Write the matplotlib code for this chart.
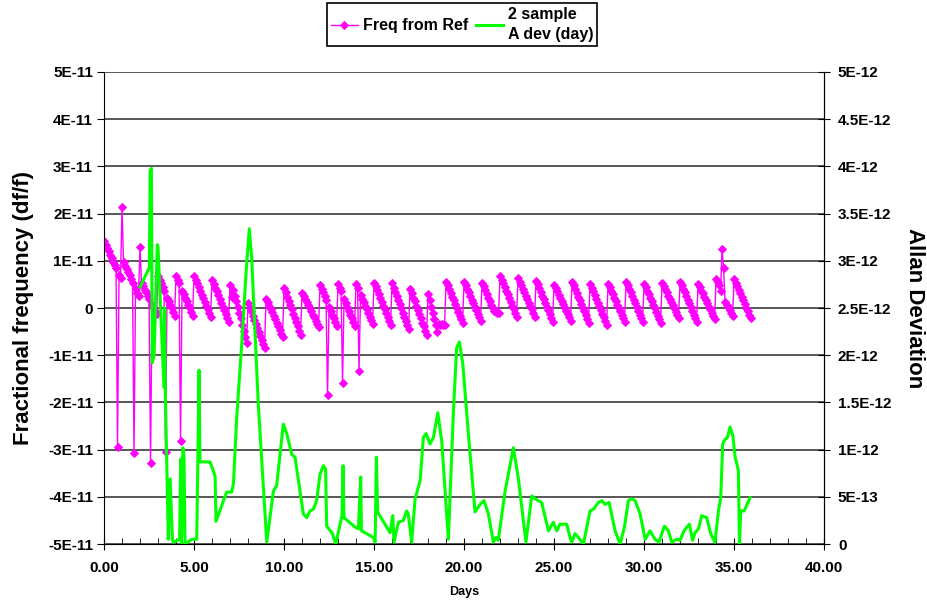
import numpy as np
import matplotlib.pyplot as plt
from matplotlib.ticker import MultipleLocator, FormatStrFormatter

plt.rcParams['font.family'] = ['Liberation Sans', 'DejaVu Sans']
plt.rcParams['font.weight'] = 'bold'
plt.rcParams['axes.labelweight'] = 'bold'

# frequency vs reference, units of 1E-12, 12 samples per day (one row per day)
samples_per_day = 12
freq_e12 = [
    14.1, 13.4, 12.7, 12.0, 11.3, 10.6, 9.8, 9.1, 8.4, -29.4, 7.0, 6.3,
    21.5, 9.8, 9.0, 8.3, 7.6, 6.9, 6.1, 5.4, -30.8, 4.0, 3.2, 2.5,
    12.9, 5.2, 4.6, 3.9, 3.3, 2.6, 2.0, -32.8, 0.7, 0.0, -0.6, -1.3,
    6.8, 6.0, 5.3, 4.5, 3.7, -30.4, 2.2, 1.5, 0.7, -0.1, -0.8, -1.6,
    6.8, 6.0, 5.3, -28.2, 3.7, 2.9, 2.2, 1.5, 0.7, -0.1, -0.8, -1.6,
    6.8, 6.0, 5.2, 4.4, 3.6, 2.8, 2.1, 1.3, 0.5, -0.3, -1.1, -1.9,
    5.9, 5.1, 4.3, 3.5, 2.7, 1.9, 1.1, 0.3, -0.5, -1.3, -2.1, -2.9,
    4.9, 2.4, 3.8, 2.6, 1.4, 0.2, -1.0, -2.2, -3.5, -4.8, -6.1, -7.5,
    1.0, 0.1, -0.7, -1.6, -2.5, -3.3, -4.2, -5.0, -5.9, -6.8, -7.6, -8.5,
    2.0, 1.3, 0.5, -0.2, -0.9, -1.7, -2.4, -3.2, -3.9, -4.6, -5.4, -6.1,
    4.2, 3.3, 2.4, 1.5, 0.6, -0.3, -1.2, -2.1, -3.0, -3.9, -4.8, -5.7,
    3.2, 2.5, 1.9, 1.2, 0.6, -0.1, -0.7, -1.4, -2.0, -2.7, -3.3, -4.0,
    4.9, 4.1, 3.3, 2.5, 1.7, -18.4, 0.2, -0.6, -1.4, -2.2, -3.0, -3.8,
    5.1, 4.3, 3.5, -15.8, 1.9, 1.1, 0.2, -0.6, -1.4, -2.2, -3.0, -3.8,
    5.1, 4.3, -13.3, 2.8, 2.0, 1.2, 0.5, -0.3, -1.1, -1.9, -2.6, -3.4,
    5.4, 4.6, 3.8, 3.0, 2.1, 1.3, 0.5, -0.3, -1.1, -2.0, -2.8, -3.6,
    5.2, 4.3, 3.4, 2.6, 1.7, 0.8, -0.1, -1.0, -1.9, -2.7, -3.6, -4.5,
    4.0, 3.1, 2.2, 1.4, 0.5, -0.4, -1.3, -2.2, -3.1, -3.9, -4.8, -5.7,
    3.0, 1.7, 0.3, -1.0, -2.3, -3.7, -5.0, -3.4, -3.5, -3.4, -3.6, -3.7,
    5.6, 4.8, 4.0, 3.2, 2.4, 1.6, 0.8, 0.0, -0.8, -1.6, -2.4, -3.2,
    5.6, 4.8, 4.1, 3.3, 2.6, 1.8, 1.1, 0.3, -0.4, -1.2, -1.9, -2.7,
    5.4, 4.6, 3.8, 3.0, 2.2, 1.4, 0.6, -0.1, -0.6, -0.9, -1.0, -1.1,
    6.8, 6.0, 5.2, 4.5, 3.7, 2.9, 2.1, 1.3, 0.5, -0.2, -1.0, -1.8,
    6.3, 5.6, 4.8, 4.1, 3.4, 2.6, 1.9, 1.1, 0.4, -0.3, -1.1, -1.8,
    5.8, 5.0, 4.2, 3.4, 2.6, 1.9, 1.1, 0.3, -0.5, -1.3, -2.1, -2.9,
    4.9, 4.2, 3.5, 2.8, 2.1, 1.4, 0.8, 0.1, -0.6, -1.3, -2.0, -2.7,
    5.6, 4.8, 4.0, 3.2, 2.4, 1.6, 0.9, 0.1, -0.7, -1.5, -2.3, -3.1,
    5.1, 4.3, 3.5, 2.7, 1.9, 1.1, 0.4, -0.4, -1.2, -2.0, -2.8, -3.6,
    5.1, 4.4, 3.6, 2.9, 2.2, 1.5, 0.7, 0.0, -0.7, -1.4, -2.2, -2.9,
    5.6, 4.8, 4.1, 3.3, 2.5, 1.7, 1.0, 0.2, -0.6, -1.4, -2.1, -2.9,
    5.1, 4.4, 3.6, 2.9, 2.1, 1.4, 0.6, -0.1, -0.9, -1.6, -2.4, -3.1,
    5.4, 4.7, 4.0, 3.3, 2.6, 2.0, 1.3, 0.6, -0.1, -0.8, -1.5, -2.2,
    5.6, 4.8, 4.1, 3.3, 2.5, 1.7, 1.0, 0.2, -0.6, -1.4, -2.1, -2.9,
    5.1, 4.4, 3.7, 3.1, 2.4, 1.7, 1.0, 0.3, -0.3, -1.0, -1.7, -2.4,
    6.1, 5.5, 4.8, 3.5, 12.6, 8.4, 1.3, 0.7, 0.2, -0.4, -1.0, -1.7,
    6.1, 5.3, 4.6, 3.8, 3.1, 2.3, 1.6, 0.8, 0.0, -0.7, -1.5, -2.2,
]
freq_days = np.arange(len(freq_e12)) / samples_per_day

# 2 sample Allan deviation (day), units of 1E-12
adev_days = [2.00, 2.52, 2.56, 2.63, 2.68, 2.78, 2.96, 3.00, 3.33, 3.37,
             3.40, 3.57, 3.67, 3.80, 3.85, 4.20, 4.26, 4.30, 4.38, 4.44,
             4.50, 4.65, 4.87, 5.15, 5.28, 5.33, 5.89, 6.17, 6.22, 6.81,
             7.09, 7.19, 7.37, 7.65, 7.90, 8.07, 8.20, 8.57, 9.04, 9.41,
             9.59, 9.96, 10.15, 10.43, 10.61, 11.07, 11.26, 11.44, 11.63, 11.81,
             12.00, 12.19, 12.31, 12.37, 12.69, 12.87, 13.22, 13.28, 13.33, 13.94,
             14.13, 14.17, 14.26, 14.30, 14.96, 15.06, 15.13, 15.20, 15.61, 15.89,
             16.04, 16.11, 16.35, 16.63, 16.81, 16.90, 17.09, 17.28, 17.56, 17.74,
             17.89, 18.11, 18.30, 18.54, 18.76, 19.13, 19.41, 19.59, 19.74, 19.93,
             20.24, 20.61, 20.89, 21.11, 21.35, 21.63, 21.78, 21.90, 22.28, 22.74,
             23.02, 23.44, 23.76, 23.94, 24.31, 24.69, 24.96, 25.15, 25.33, 25.70,
             25.89, 25.98, 26.17, 26.35, 26.63, 27.00, 27.19, 27.46, 27.65, 27.83,
             28.06, 28.39, 28.67, 28.91, 29.13, 29.31, 29.50, 29.78, 30.06, 30.33,
             30.61, 30.83, 31.13, 31.35, 31.54, 31.81, 32.00, 32.22, 32.52, 32.70,
             32.83, 33.02, 33.20, 33.48, 33.70, 33.94, 34.13, 34.26, 34.37, 34.50,
             34.63, 34.78, 34.93, 35.06, 35.24, 35.30, 35.37, 35.56, 35.89]
adev_e12 = [2.72, 2.93, 3.95, 3.98, 1.92, 2.00, 3.17, 3.14, 1.66, 2.50,
            1.66, 0.05, 0.69, 0.05, 0.02, 0.05, 0.90, 0.00, 1.02, 0.95,
            0.00, 0.02, 0.05, 0.05, 1.84, 0.87, 0.87, 0.72, 0.24, 0.55,
            0.55, 0.64, 1.34, 2.12, 2.90, 3.34, 3.04, 1.48, 0.02, 0.56,
            0.62, 1.27, 1.17, 0.95, 0.92, 0.32, 0.28, 0.35, 0.37, 0.46,
            0.74, 0.83, 0.79, 0.19, 0.11, 0.00, 0.30, 0.83, 0.28, 0.18,
            0.16, 0.32, 0.71, 0.14, 0.07, 0.02, 0.92, 0.34, 0.21, 0.12,
            0.30, 0.02, 0.23, 0.25, 0.35, 0.32, 0.02, 0.48, 0.67, 1.13,
            1.17, 1.06, 1.13, 1.39, 1.09, 0.05, 1.41, 2.08, 2.14, 1.91,
            1.17, 0.34, 0.42, 0.46, 0.32, 0.02, 0.07, 0.04, 0.56, 1.02,
            0.69, 0.02, 0.51, 0.48, 0.44, 0.14, 0.23, 0.14, 0.21, 0.21,
            0.07, 0.02, 0.11, 0.07, 0.00, 0.35, 0.37, 0.44, 0.46, 0.42,
            0.44, 0.14, 0.00, 0.18, 0.46, 0.48, 0.46, 0.32, 0.05, 0.14,
            0.05, 0.02, 0.19, 0.14, 0.02, 0.05, 0.04, 0.14, 0.21, 0.04,
            0.12, 0.16, 0.30, 0.28, 0.11, 0.02, 0.35, 0.49, 1.06, 1.11,
            1.13, 1.24, 1.15, 0.92, 0.78, 0.00, 0.35, 0.35, 0.49]

left_ticks = [5e-11, 4e-11, 3e-11, 2e-11, 1e-11, 0, -1e-11, -2e-11, -3e-11, -4e-11, -5e-11]
left_labels = ['5E-11', '4E-11', '3E-11', '2E-11', '1E-11', '0',
               '-1E-11', '-2E-11', '-3E-11', '-4E-11', '-5E-11']
right_ticks = [5e-12, 4.5e-12, 4e-12, 3.5e-12, 3e-12, 2.5e-12, 2e-12, 1.5e-12, 1e-12, 5e-13, 0]
right_labels = ['5E-12', '4.5E-12', '4E-12', '3.5E-12', '3E-12', '2.5E-12',
                '2E-12', '1.5E-12', '1E-12', '5E-13', '0']

fig = plt.figure(figsize=(9.28, 6.02), dpi=100)
ax = fig.add_axes([0.1121, 0.0963, 0.7759, 0.7841])
ax2 = ax.twinx()

l1, = ax.plot(freq_days, np.array(freq_e12) * 1e-12, color='#FF00FF', lw=1,
              marker='D', markersize=3.7, markeredgewidth=0.7, markeredgecolor='#FF00FF',
              label='Freq from Ref')
l2, = ax2.plot(adev_days, np.array(adev_e12) * 1e-12, color='#00FF00', lw=2.2,
               label='2 sample\nA dev (day)')

ax.set_xlim(0, 40)
ax.set_ylim(-5e-11, 5e-11)
ax2.set_ylim(0, 5e-12)
ax.set_yticks(left_ticks, left_labels)
ax2.set_yticks(right_ticks, right_labels)
ax.xaxis.set_major_locator(MultipleLocator(5))
ax.xaxis.set_minor_locator(MultipleLocator(1))
ax.xaxis.set_major_formatter(FormatStrFormatter('%.2f'))

ax.set_axisbelow(True)
ax.yaxis.grid(True, color='#2a2a2a', lw=1.1)
for sp in ax.spines.values():
    sp.set_color('black')
ax.spines['top'].set_visible(False)
ax2.spines['top'].set_visible(False)
ax2.spines['left'].set_visible(False)
ax2.spines['bottom'].set_visible(False)

ax.tick_params(axis='x', which='major', direction='inout', length=8, labelsize=11, pad=8)
ax.tick_params(axis='x', which='minor', direction='in', length=4)
ax.tick_params(axis='y', direction='out', length=5, labelsize=11, pad=3)
ax2.tick_params(axis='y', direction='inout', length=8, labelsize=11, pad=6)

ax.set_xlabel('Days', fontsize=9, fontweight='bold', labelpad=8)
ax.set_ylabel('Fractional frequency (df/f)', fontsize=16, fontweight='bold', labelpad=10)
ax2.set_ylabel('Allan Deviation', fontsize=16, fontweight='bold', rotation=270, labelpad=24)

leg = fig.legend([l1, l2], ['Freq from Ref', '2 sample\nA dev (day)'],
                 loc='upper center', bbox_to_anchor=(0.498, 0.997), ncol=2,
                 fancybox=False, edgecolor='black', fontsize=11.5,
                 handlelength=1.7, columnspacing=0.5, handletextpad=0.3,
                 borderpad=0.25, borderaxespad=0.1, framealpha=1)
leg.get_frame().set_linewidth(1.2)
for t in leg.get_texts():
    t.set_linespacing(1.35)

fig.savefig('out.png', dpi=100)
